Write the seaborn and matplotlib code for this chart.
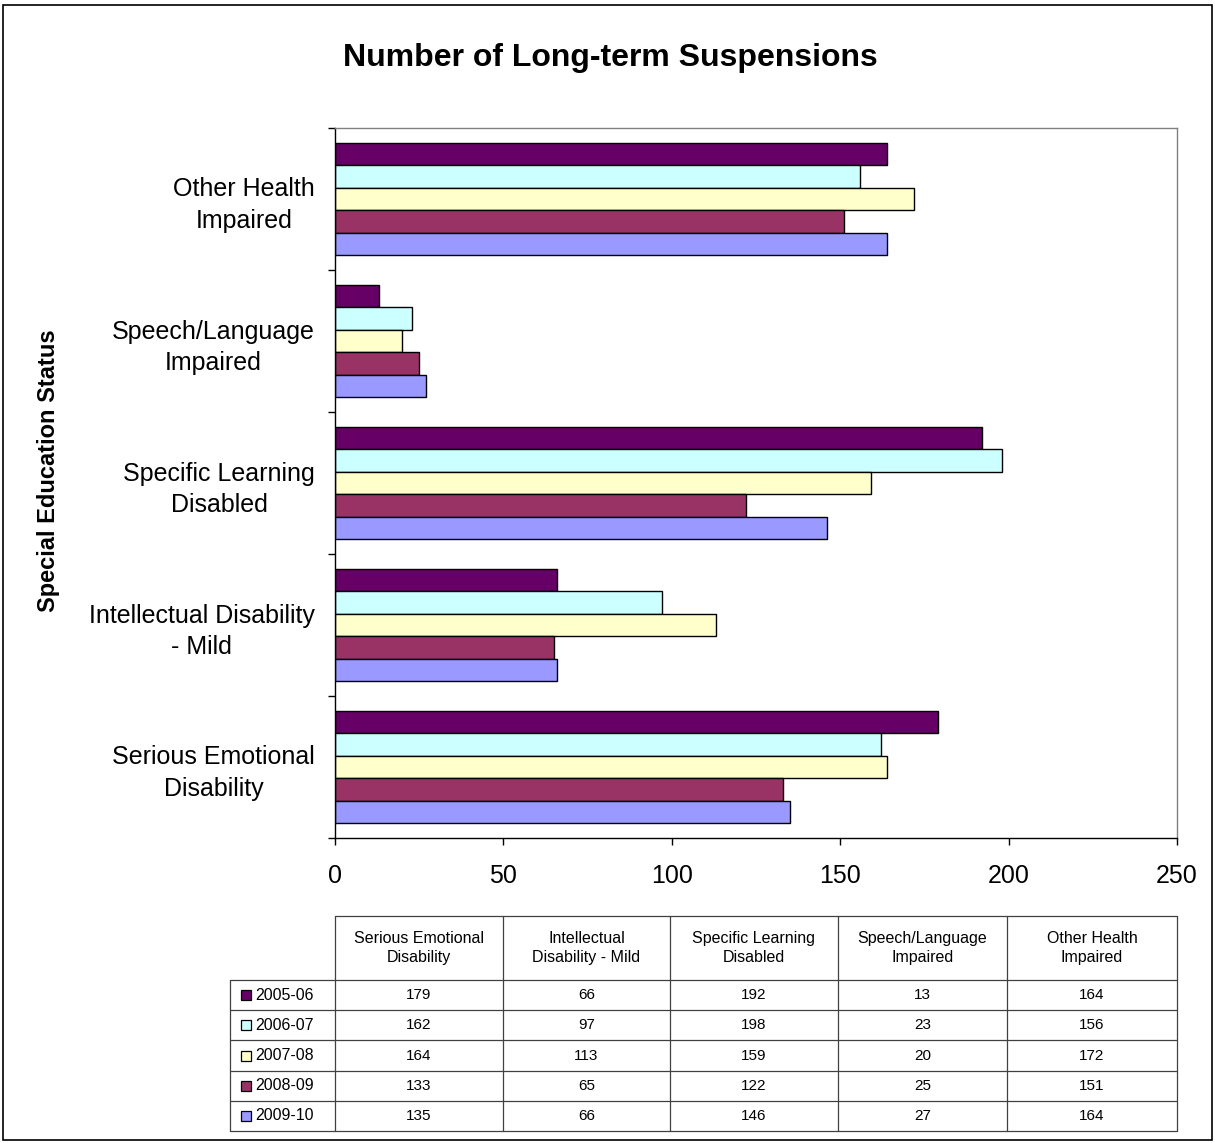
import numpy as np
import pandas as pd
import matplotlib
matplotlib.use('Agg')
import matplotlib.pyplot as plt
import matplotlib.transforms as mtransforms
import seaborn as sns
from matplotlib.patches import Rectangle

categories = ['Serious Emotional Disability', 'Intellectual Disability - Mild',
              'Specific Learning Disabled', 'Speech/Language Impaired',
              'Other Health Impaired']
axis_labels = ['Serious Emotional\nDisability', 'Intellectual Disability\n- Mild',
               'Specific Learning\nDisabled', 'Speech/Language\nImpaired',
               'Other Health\nImpaired']
table_headers = ['Serious Emotional\nDisability', 'Intellectual\nDisability - Mild',
                 'Specific Learning\nDisabled', 'Speech/Language\nImpaired',
                 'Other Health\nImpaired']
years = ['2005-06', '2006-07', '2007-08', '2008-09', '2009-10']
v2005 = [179, 66, 192, 13, 164]
v2006 = [162, 97, 198, 23, 156]
v2007 = [164, 113, 159, 20, 172]
v2008 = [133, 65, 122, 25, 151]
v2009 = [135, 66, 146, 27, 164]
colors = ['#660066', '#CCFFFF', '#FFFFCC', '#993366', '#9999FF']

series = [v2005, v2006, v2007, v2008, v2009]
df = pd.DataFrame([
    {'cat': c, 'year': y, 'value': vals[i]}
    for y, vals in zip(years, series)
    for i, c in enumerate(categories)
])

sns.set_theme(style='white')
plt.rcParams['font.family'] = ['Liberation Sans', 'DejaVu Sans']
plt.rcParams['text.color'] = 'black'
plt.rcParams['axes.labelcolor'] = 'black'
plt.rcParams['xtick.color'] = 'black'
plt.rcParams['ytick.color'] = 'black'

W, H = 1215, 1143
fig = plt.figure(figsize=(W / 100, H / 100), dpi=100)

# plot area in pixel coords of the reference
L, R, T, B = 335, 1177, 128, 838
ax = fig.add_axes([L / W, 1 - B / H, (R - L) / W, (B - T) / H])

order = categories[::-1]
sns.barplot(data=df, y='cat', x='value', hue='year', order=order,
            hue_order=years, palette=colors, saturation=1, orient='h',
            width=0.79, edgecolor='black', linewidth=1.0, ax=ax, legend=False)

ax.set_xlim(0, 250)
ax.set_xticks(np.arange(0, 251, 50))
ax.set_ylim(len(order) - 0.5, -0.5)
ax.set_yticks(range(len(order)))
ax.set_yticklabels([axis_labels[categories.index(c)] for c in order],
                   fontsize=18, linespacing=1.4, multialignment='center')
# nudge the category labels up a little, as in the reference
shift = mtransforms.ScaledTranslation(0, 0.05, fig.dpi_scale_trans)
for lab in ax.get_yticklabels():
    lab.set_transform(lab.get_transform() + shift)
ax.set_yticks(np.arange(-0.5, len(order), 1), minor=True)
ax.tick_params(axis='y', which='major', length=0, pad=14.5)
ax.tick_params(axis='y', which='minor', length=5, width=1, color='black',
               direction='out', left=True)
ax.tick_params(axis='x', length=5, width=1, color='black', direction='out',
               bottom=True, labelsize=18, pad=14)
ax.set_xlabel('')
ax.set_ylabel('Special Education Status', fontsize=17, fontweight='bold')
ax.yaxis.set_label_coords(-(L - 60) / (R - L), 0.518)
for s in ['left', 'bottom']:
    ax.spines[s].set_color('black')
    ax.spines[s].set_linewidth(1)
for s in ['top', 'right']:
    ax.spines[s].set_color('#808080')
    ax.spines[s].set_linewidth(1)

fig.text(610 / W, 1 - 58 / H, 'Number of Long-term Suspensions',
         ha='center', va='center', fontsize=23, fontweight='bold')

# data table below the chart
tax = fig.add_axes([0, 0, 1, 1])
tax.set_xlim(0, W)
tax.set_ylim(H, 0)
tax.axis('off')

col_x = [230, 335, 503, 670, 838, 1007, 1177]
head_top, head_bot = 916, 980
row_h = 30.2
lc = '#404040'
# header row
for x in col_x[1:]:
    tax.plot([x, x], [head_top, head_bot], color=lc, lw=0.9)
tax.plot([col_x[1], col_x[-1]], [head_top, head_top], color=lc, lw=0.9)
for j, h in enumerate(table_headers):
    tax.text((col_x[j + 1] + col_x[j + 2]) / 2, (head_top + head_bot) / 2, h,
             ha='center', va='center', fontsize=11.5, linespacing=1.3)
# data rows
bottom = head_bot + row_h * len(years)
tax.plot([col_x[0], col_x[-1]], [head_bot, head_bot], color=lc, lw=0.9)
for x in col_x:
    tax.plot([x, x], [head_bot, bottom], color=lc, lw=0.9)
for i, (y, vals, c) in enumerate(zip(years, series, colors)):
    y0 = head_bot + row_h * i
    y1 = y0 + row_h
    tax.plot([col_x[0], col_x[-1]], [y1, y1], color=lc, lw=0.9)
    yc = (y0 + y1) / 2
    tax.add_patch(Rectangle((241, yc - 5), 10, 10, facecolor=c,
                            edgecolor='black', lw=0.9))
    tax.text(255, yc, y, ha='left', va='center', fontsize=11.5)
    for j, v in enumerate(vals):
        tax.text((col_x[j + 1] + col_x[j + 2]) / 2, yc, str(v),
                 ha='center', va='center', fontsize=11)

# outer frame of the chart
tax.add_patch(Rectangle((3, 5), W - 6, H - 8, fill=False,
                        edgecolor='black', lw=1.2))

fig.savefig('out.png', dpi=100)
plt.close()
